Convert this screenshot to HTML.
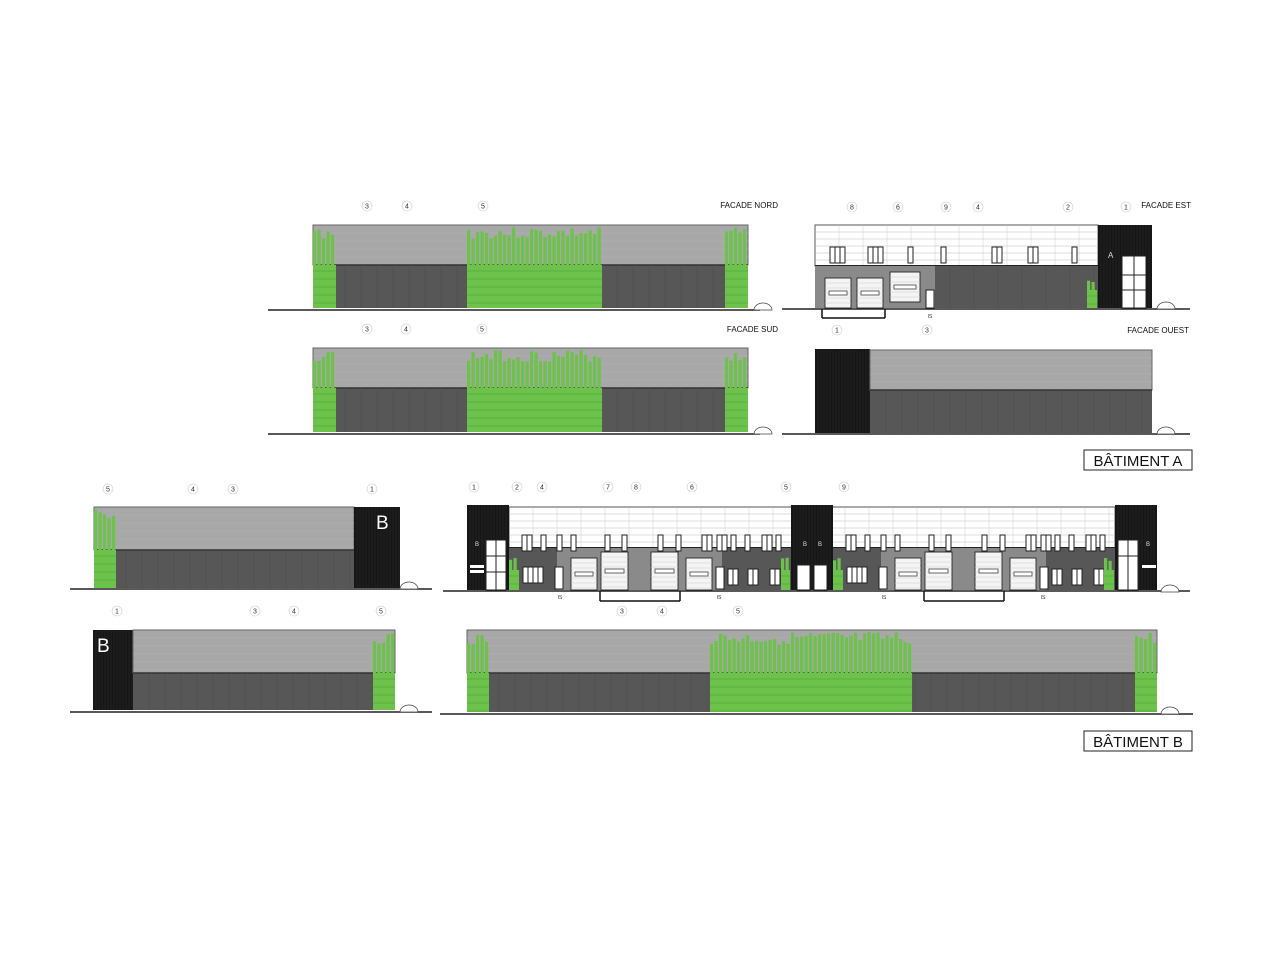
<!DOCTYPE html>
<html><head><meta charset="utf-8"><style>
html,body{margin:0;padding:0;background:#fff;width:1280px;height:960px;overflow:hidden}
svg{display:block}
text{font-family:"Liberation Sans",sans-serif}
</style></head><body>
<svg id="s" width="1280" height="960" viewBox="0 0 1280 960" xmlns="http://www.w3.org/2000/svg"></svg>
<script>
var o='';
function R(x,y,w,h,f,st){o+='<rect x="'+x+'" y="'+y+'" width="'+w+'" height="'+h+'" fill="'+f+'"'+(st?' stroke="'+st+'" stroke-width="1"':'')+'/>';}
function L(x1,y1,x2,y2,c,w){o+='<line x1="'+x1+'" y1="'+y1+'" x2="'+x2+'" y2="'+y2+'" stroke="'+c+'" stroke-width="'+(w||1)+'"/>';}
function T(x,y,t,s,c,a){o+='<text x="'+x+'" y="'+y+'" font-size="'+s+'" fill="'+(c||'#111')+'"'+(a?' text-anchor="'+a+'"':'')+'>'+t+'</text>';}
function N(x,y,t){o+='<circle cx="'+x+'" cy="'+y+'" r="5" fill="#fff" stroke="#ccc" stroke-width="0.6"/>';T(x,y+2.5,t,7,'#333','middle');}
var seed=3;function rnd(){seed=(seed*9301+49297)%233280;return seed/233280;}
function G(x0,x1,top,mid,bot){
  R(x0,mid,x1-x0,bot-mid,'#6cc24a');
  for(var x=x0;x<x1-1;x+=4.5){var h=top+2+rnd()*(mid-top)*0.3;R(x,h,3.2,mid-h,'#6cc24a');}
  for(var y=mid+6;y<bot;y+=8)L(x0,y,x1,y,'#4e9a36',0.5);
}
function BLK(x0,x1,top,bot){R(x0,top,x1-x0,bot-top,'#161616');for(var x=x0+3;x<x1;x+=3)L(x,top,x,bot,'#2c2c2c',0.6);}
function PLAIN(x0,x1,top,mid,bot){
  R(x0,top,x1-x0,mid-top,'#a8a8a8','#666');
  for(var y=top+8;y<mid;y+=8)L(x0,y,x1,y,'#b2b2b2',0.5);
  R(x0,mid,x1-x0,bot-mid,'#575757');L(x0,mid,x1,mid,'#333',1.5);
  for(var x=x0+16;x<x1;x+=16)L(x,mid,x,bot,'#4c4c4c',0.5);
}
function GROUND(x0,x1,y){L(x0,y,x1,y,'#222',1.5);}
function STAMP(x,y){o+='<path d="M'+(x-9)+' '+y+' a9 7 0 0 1 18 0 z" fill="#fff" stroke="#444" stroke-width="0.7"/>';}
function WIN(x,y,n){for(var i=0;i<n;i++){R(x+i*5,y,5,16,'#fff','#222');}}
function UPPER(x0,x1,top,mid){R(x0,top,x1-x0,mid-top,'#fff','#555');
  for(var y=top+7;y<mid;y+=7)L(x0,y,x1,y,'#bbb',0.5);
  for(var x=x0+24;x<x1;x+=24)L(x,top,x,mid,'#ccc',0.5);L(x0,mid,x1,mid,'#222',2);}
function DOOR(x,y,w,h){R(x,y,w,h,'#f4f4f4','#333');for(var yy=y+5;yy<y+h;yy+=5)L(x,yy,x+w,yy,'#ccc',0.5);R(x+4,y+h/2-2,w-8,4,'#fff','#666');}

GROUND(268,760,310);PLAIN(313,748,225,265,308);
G(313,336,225,265,308);G(467,602,225,265,308);G(725,748,225,265,308);
N(367,206,'3');N(407,206,'4');N(483,206,'5');T(778,208,'FACADE NORD',8,'#111','end');STAMP(763,310);
GROUND(268,760,434);PLAIN(313,748,348,388,432);
G(313,336,348,388,432);G(467,602,348,388,432);G(725,748,348,388,432);
N(367,329,'3');N(406,329,'4');N(482,329,'5');T(778,332,'FACADE SUD',8,'#111','end');STAMP(763,434);

GROUND(782,1190,309);UPPER(815,1098,225,266);
R(815,266,120,42,'#8a8a8a');R(935,266,163,42,'#575757');for(var x=950;x<1098;x+=24)L(x,266,x,308,'#4a4a4a',0.5);
DOOR(825,278,26,30);DOOR(857,278,26,30);DOOR(890,272,30,30);R(926,290,8,18,'#fff','#222');
G(1087,1097,276,290,308);
BLK(1098,1152,225,308);T(1108,258,'A',8,'#ddd');R(1122,256,24,52,'#fff','#222');L(1134,256,1134,308,'#222');L(1122,275,1146,275,'#222');L(1122,290,1146,290,'#222');
L(822,309,822,318,'#111',1.5);L(822,318,885,318,'#111',1.5);L(885,309,885,318,'#111',1.5);
[[822,3],[860,3],[900,1],[933,1],[984,2],[1020,2],[1064,1]].forEach(function(w){WIN(w[0]+8,247,w[1]);});
T(930,318,'IS',5,'#333','middle');
N(852,207,'8');N(898,207,'6');N(946,207,'9');N(978,207,'4');N(1068,207,'2');N(1126,207,'1');T(1191,208,'FACADE EST',8,'#111','end');STAMP(1166,309);

GROUND(782,1190,434);BLK(815,870,349,433);PLAIN(870,1152,350,390,433);
N(837,330,'1');N(927,330,'3');T(1189,333,'FACADE OUEST',8,'#111','end');STAMP(1166,434);
R(1084,450,108,20,'#fff','#222');T(1138,466,'BÂTIMENT A',15,'#111','middle');

GROUND(70,432,589);PLAIN(94,354,507,550,588);G(94,116,507,550,588);BLK(354,400,507,588);T(376,529,'B',19,'#fff');
N(108,489,'5');N(193,489,'4');N(233,489,'3');N(372,489,'1');STAMP(409,589);
GROUND(70,432,712);BLK(93,133,630,710);T(97,652,'B',19,'#fff');PLAIN(133,395,630,673,710);G(373,395,630,673,710);
N(117,611,'1');N(255,611,'3');N(294,611,'4');N(381,611,'5');STAMP(409,712);

GROUND(443,1190,591);UPPER(509,1115,507,548);
R(509,548,282,42,'#575757');R(833,548,282,42,'#575757');
R(557,548,165,42,'#8a8a8a');R(881,548,165,42,'#8a8a8a');
[[0],[324]].forEach(function(a){var d=a[0];
 DOOR(571+d,558,26,32);DOOR(601+d,552,27,38);DOOR(651+d,552,27,38);DOOR(686+d,558,26,32);
 WIN(523+d,567,4);R(555+d,567,8,22,'#fff','#222');R(716+d,567,8,22,'#fff','#222');WIN(728+d,569,2);WIN(748+d,569,2);WIN(770+d,569,2);
 G(509+d,519+d,555,570,590);
 L(600+d,591,600+d,601,'#111',1.5);L(600+d,601,680+d,601,'#111',1.5);L(680+d,591,680+d,601,'#111',1.5);
 [522,541,557,571,605,622,658,676,702,717,731,745,762,776].forEach(function(x){WIN(x+d,535,x%3?1:2);});
 T(560+d,599,'IS',5,'#333','middle');T(719+d,599,'IS',5,'#333','middle');
});
G(781,790,555,570,590);G(1104,1114,555,570,590);
BLK(467,509,505,590);BLK(791,833,505,590);BLK(1115,1157,505,590);
R(486,540,20,50,'#fff','#222');L(496,540,496,590,'#222');L(486,556,506,556,'#222');L(486,572,506,572,'#222');
R(470,565,14,3,'#fff');R(470,570,14,3,'#fff');T(475,546,'B',6,'#ddd');
T(803,546,'B',6,'#ddd');T(818,546,'B',6,'#ddd');R(797,565,13,25,'#fff','#222');R(814,565,13,25,'#fff','#222');
R(1118,540,20,50,'#fff','#222');L(1128,540,1128,590,'#222');L(1118,556,1138,556,'#222');R(1142,565,14,3,'#fff');T(1146,546,'B',6,'#ddd');
N(474,487,'1');N(517,487,'2');N(542,487,'4');N(608,487,'7');N(636,487,'8');N(692,487,'6');N(786,487,'5');N(844,487,'9');STAMP(1170,592);

GROUND(440,1193,714);PLAIN(467,1157,630,673,712);
G(467,489,630,673,712);G(710,912,630,673,712);G(1135,1157,630,673,712);
N(622,611,'3');N(662,611,'4');N(738,611,'5');STAMP(1170,714);
R(1084,731,108,20,'#fff','#222');T(1138,747,'BÂTIMENT B',15,'#111','middle');
document.getElementById('s').innerHTML=o;
</script>
</body></html>
